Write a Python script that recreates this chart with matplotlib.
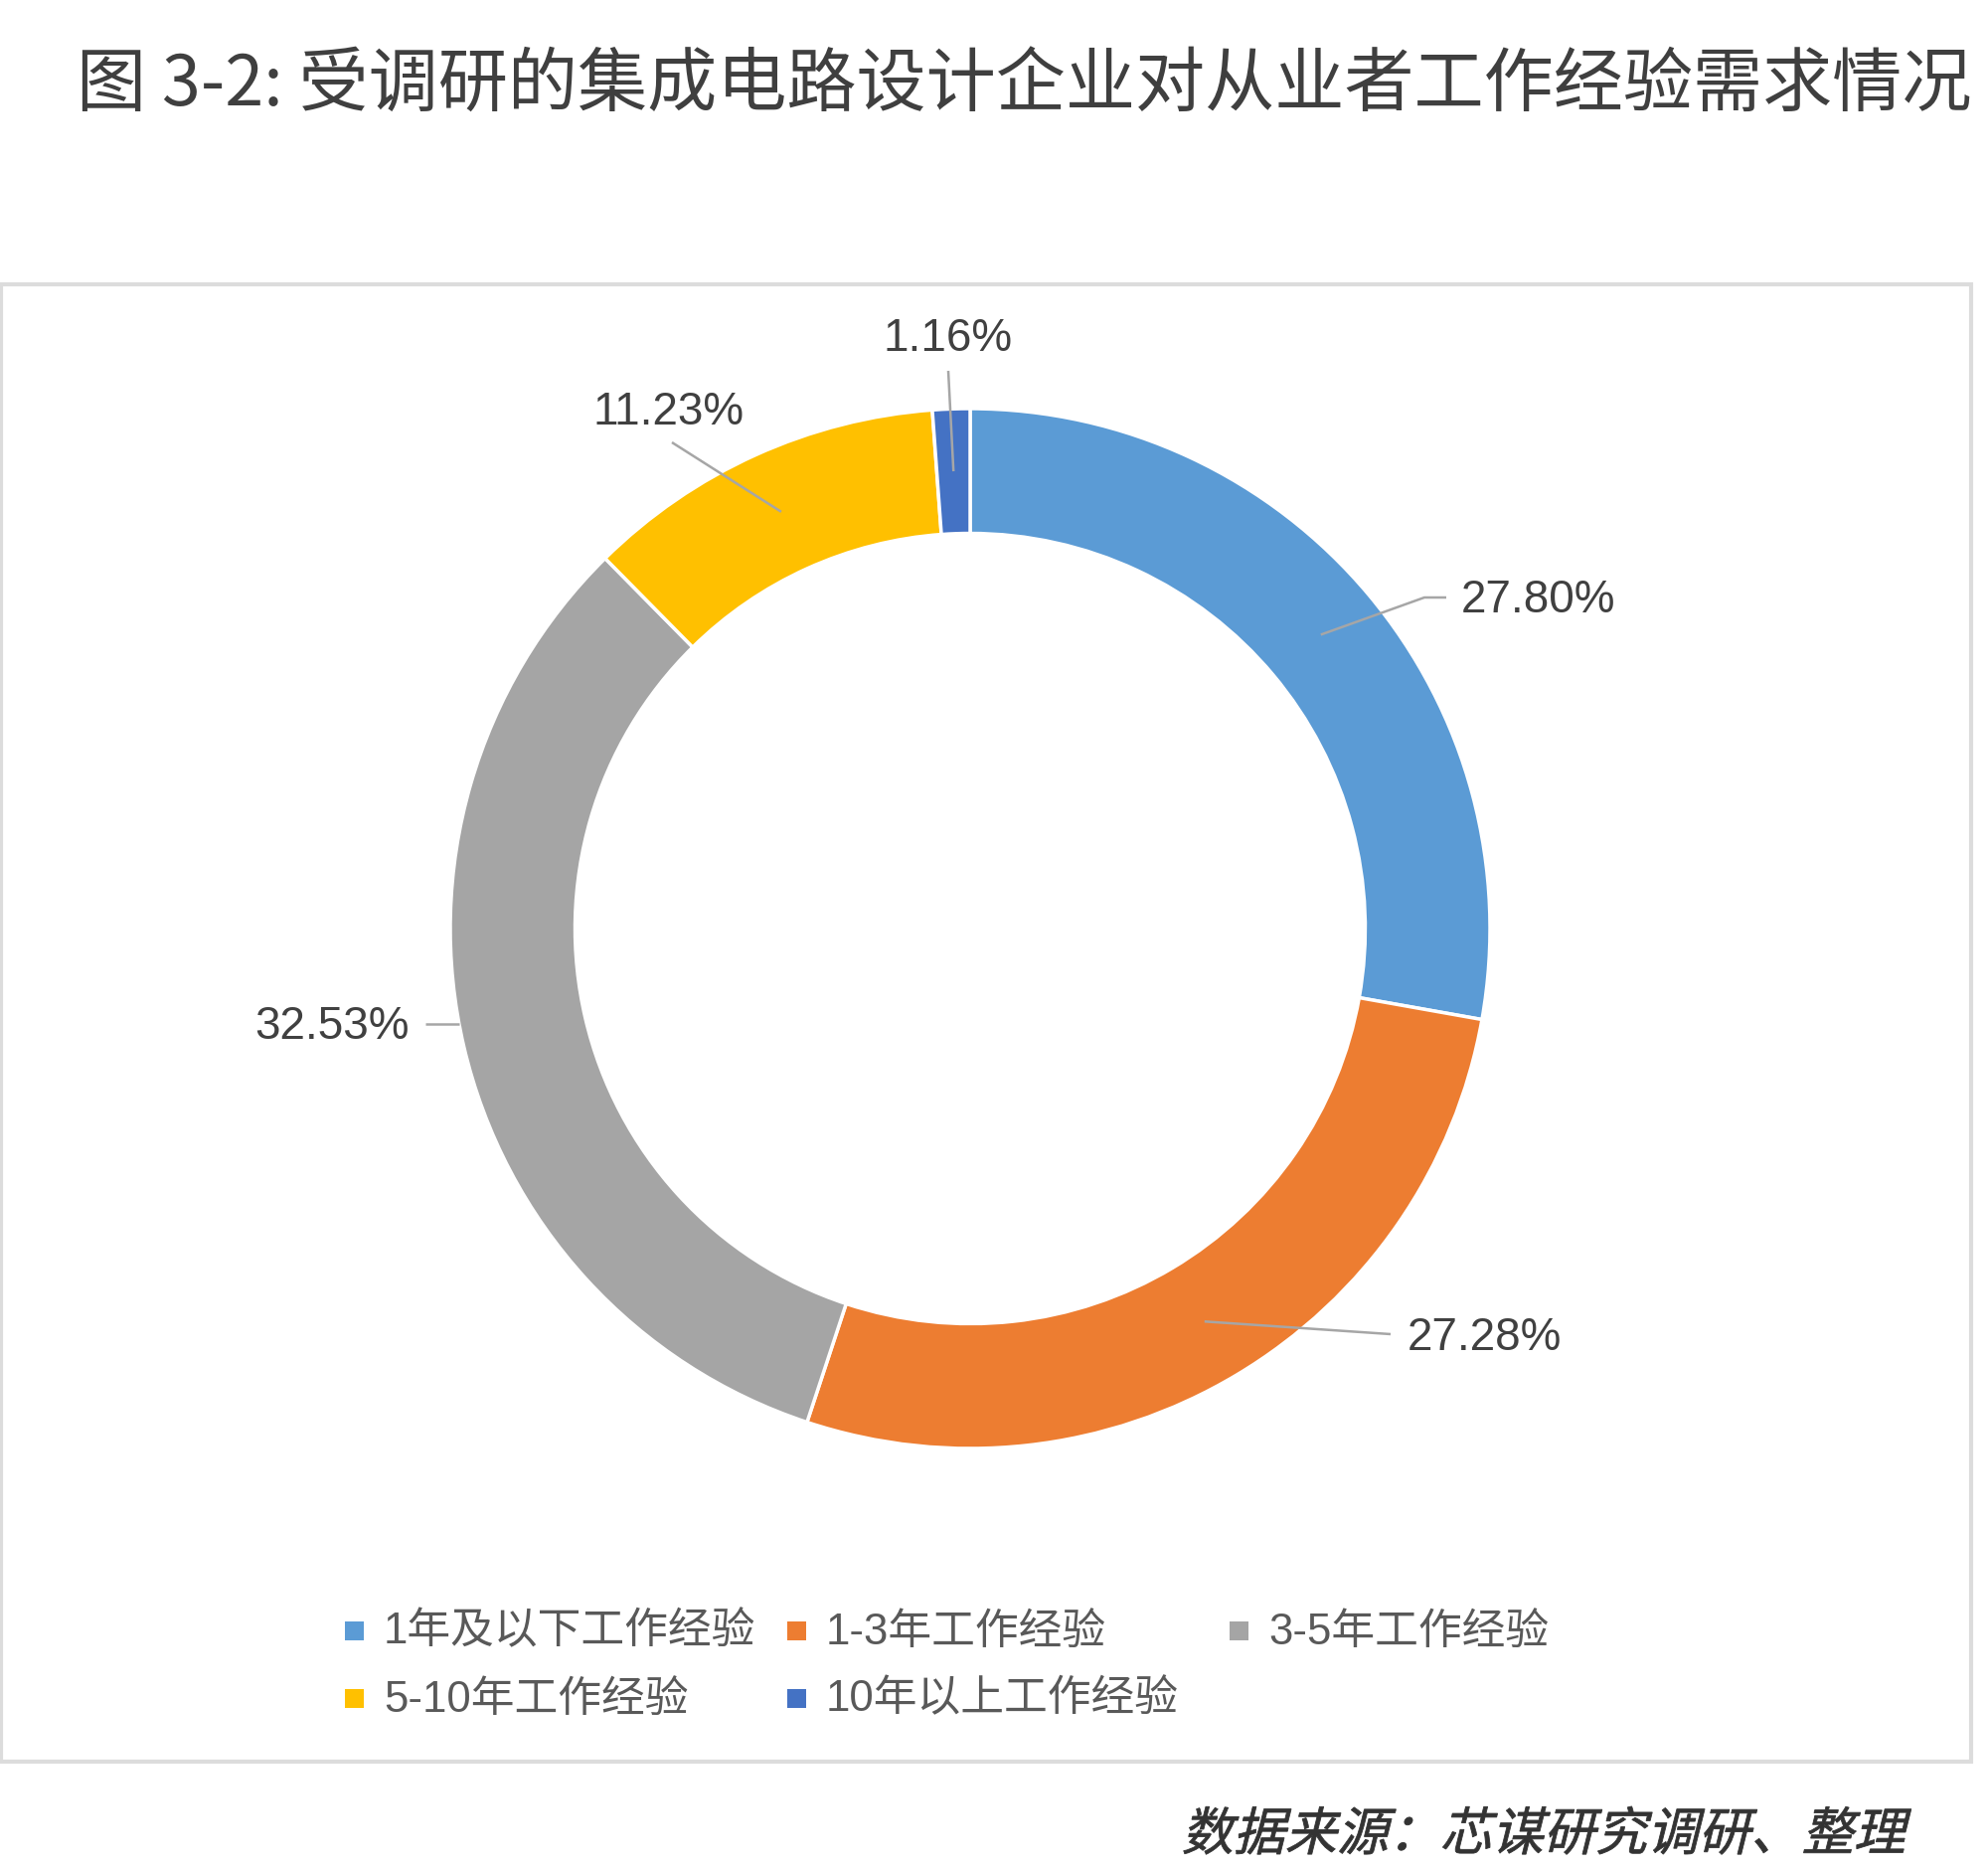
import numpy as np
import matplotlib
matplotlib.use("Agg")
import matplotlib.pyplot as plt
from matplotlib.textpath import TextPath
from matplotlib.patches import PathPatch, Rectangle
from matplotlib.font_manager import FontProperties
from matplotlib.transforms import Affine2D

# ---------------- data ----------------
categories = ["1年及以下工作经验", "1-3年工作经验", "3-5年工作经验", "5-10年工作经验", "10年以上工作经验"]
values = [27.80, 27.28, 32.53, 11.23, 1.16]
value_labels = ["27.80%", "27.28%", "32.53%", "11.23%", "1.16%"]
colors = ["#5B9BD5", "#ED7D31", "#A5A5A5", "#FFC000", "#4472C4"]
title = "图 3-2: 受调研的集成电路设计企业对从业者工作经验需求情况"
source = "数据来源：芯谋研究调研、整理"

plt.rcParams['font.family'] = ['Liberation Sans', 'Noto Sans CJK SC', 'DejaVu Sans']

W, H = 2000, 1881
fig = plt.figure(figsize=(W / 100, H / 100), dpi=100)
fig.patch.set_facecolor("white")

# pie geometry (pixels)
CX, CY, R = 976, 935, 523
LIM = 1.2
side = 2 * LIM * R
pie_ax = fig.add_axes([(CX - side / 2) / W, (H - CY - side / 2) / H, side / W, side / H])
wedges, _ = pie_ax.pie(values, colors=colors, startangle=90, counterclock=False,
                       radius=1.0,
                       wedgeprops=dict(width=0.24, edgecolor="white", linewidth=2.5))
pie_ax.set_xlim(-LIM, LIM)
pie_ax.set_ylim(-LIM, LIM)
pie_ax.set_aspect("equal")
pie_ax.axis("off")

# overlay in pixel coords (y down)
ov = fig.add_axes([0, 0, 1, 1], zorder=5)
ov.set_xlim(0, W)
ov.set_ylim(H, 0)
ov.axis("off")
ov.patch.set_visible(False)

# frame
ov.add_patch(Rectangle((1, 287), 1982, 1486, fill=False, edgecolor="#dcdcdc", linewidth=3))

# title
ov.text(77, 87, title, fontsize=50.5, color="#3f3f3f", va="center", ha="left",
        family=['Noto Sans CJK SC', 'DejaVu Sans'], weight='light')

# labels with leader lines
mids = []
start = 90.0
for v in values:
    span = v / 100 * 360
    mids.append(np.deg2rad(start - span / 2))
    start -= span

def ring_pt(ang, frac):
    return (CX + frac * R * np.cos(ang), CY - frac * R * np.sin(ang))

label_pos = [(1470, 604, "left"), (1416, 1346, "left"), (412, 1033, "right"),
             (673, 415, "center"), (954, 341, "center")]
leader_mid = [[(1433, 602), (1455, 602)], [(1399, 1343)], None,
              [(676, 446)], [(954, 374)]]
lc = "#a6a6a6"
for i, (lab, (tx, ty, ha)) in enumerate(zip(value_labels, label_pos)):
    if leader_mid[i] is None:
        pts = [(428, 1031), (462, 1031)]
    else:
        pts = [ring_pt(mids[i], 0.88)] + leader_mid[i]
    xs, ys = zip(*pts)
    ov.plot(xs, ys, color=lc, lw=1.8, solid_capstyle="butt")
    ov.text(tx, ty, lab, fontsize=33, color="#404040", ha=ha, va="center")

# legend
leg_cols = [357, 802, 1247]
leg_rows = [1642, 1710]
for i, (cat, col) in enumerate(zip(categories, colors)):
    r, c = divmod(i, 3)
    x, y = leg_cols[c], leg_rows[r]
    ov.add_patch(Rectangle((x - 10, y - 10), 19, 19, facecolor=col, edgecolor="none"))
    ov.text(x + 29, y, cat, fontsize=31.5, color="#595959", ha="left", va="center")

# source text (synthetic italic)
fp = FontProperties(family='Noto Sans CJK SC', weight='normal')
tp = TextPath((0, 0), source, size=1, prop=fp)
ext = tp.get_extents()
size_px = 52
x_right = 1925
baseline = 1862
trans = (Affine2D().skew_deg(14, 0).scale(size_px, -size_px)
         .translate(x_right - ext.x1 * size_px - 10, baseline))
ov.add_patch(PathPatch(tp, transform=trans + ov.transData, facecolor="#333333",
                       edgecolor="#333333", linewidth=0.6))

fig.savefig("out.png", dpi=100, facecolor="white")
